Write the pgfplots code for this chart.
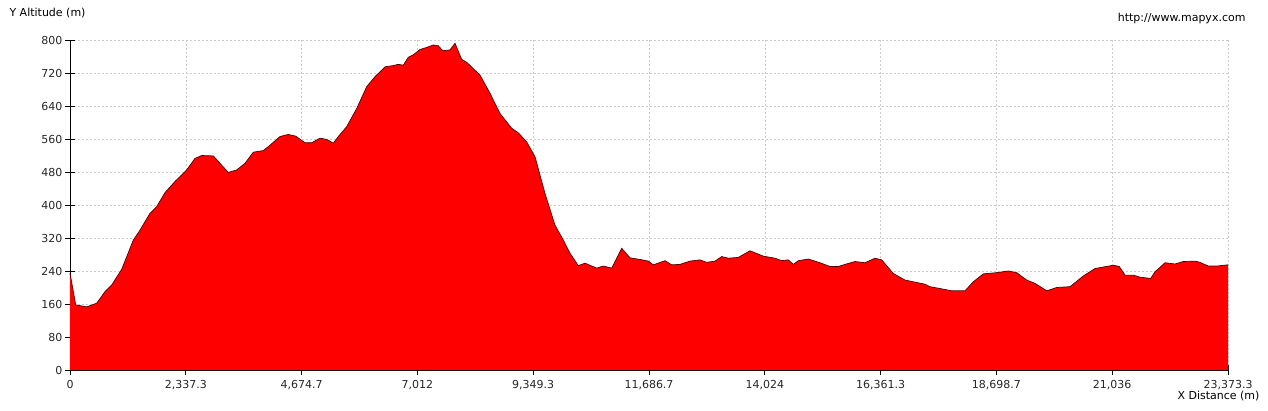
\documentclass[border=0pt]{standalone}
\usepackage{pgfplots}
\usepackage{pgfplotstable}
\pgfplotsset{compat=1.18}
\usepackage{fontspec}
\setmainfont{DejaVu Sans}
\pgfplotstableread{
x y
0 235
115 158
337 153
539 162
706 190
842 206
1043 244
1278 315
1413 339
1615 380
1750 396
1917 430
2119 457
2220 469
2355 485
2523 513
2658 520
2892 519
3028 501
3195 479
3365 485
3532 501
3700 528
3902 532
4037 545
4239 566
4406 571
4556 567
4743 551
4879 551
5046 562
5181 559
5315 550
5416 566
5585 590
5787 634
5989 687
6156 711
6358 735
6526 738
6627 741
6727 739
6828 758
6929 764
7064 777
7200 782
7333 788
7434 786
7523 774
7670 776
7771 792
7906 753
8007 746
8275 715
8477 671
8679 622
8915 586
9049 575
9218 553
9386 517
9587 428
9789 351
9957 315
10092 283
10260 253
10395 259
10631 247
10764 252
10934 247
11136 295
11303 272
11505 268
11673 264
11774 255
12010 265
12145 255
12312 256
12514 264
12716 267
12851 261
13019 264
13154 275
13288 271
13489 273
13725 289
13994 276
14230 271
14365 265
14498 267
14599 256
14700 265
14902 269
15138 260
15340 251
15507 251
15643 256
15844 263
16046 260
16248 271
16383 267
16618 234
16854 218
17257 208
17358 202
17627 196
17796 192
18065 192
18233 214
18434 233
18705 236
18939 240
19108 236
19310 218
19478 210
19714 192
19916 200
20184 202
20453 228
20689 246
21058 254
21179 251
21294 230
21462 230
21597 225
21813 222
21900 238
22102 260
22303 257
22471 263
22707 264
22808 261
22976 252
23145 252
23373.3 255
}\profile
\begin{document}
\begin{tikzpicture}[x=1pt,y=1pt]
\useasboundingbox (0,0) rectangle (1268,410);
\begin{axis}[
  at={(70pt,40pt)}, anchor=south west,
  scale only axis, width=1158pt, height=330pt,
  xmin=0, xmax=23373.3, ymin=0, ymax=800,
  axis x line=bottom, axis y line=left,
  axis line style={-, black, line width=0.8pt},
  scaled x ticks=false, scaled y ticks=false,
  xtick={0,2337.3,4674.7,7012,9349.3,11686.7,14024,16361.3,18698.7,21036,23373.3},
  xticklabels={0,{2,337.3},{4,674.7},{7,012},{9,349.3},{11,686.7},{14,024},{16,361.3},{18,698.7},{21,036},{23,373.3}},
  ytick={0,80,...,800},
  yticklabels={0,80,160,240,320,400,480,560,640,720,800},
  tick align=center, major tick length=10pt,
  tick style={black, line width=0.8pt},
  grid=major,
  major grid style={gray!40, line width=0.5pt, dash pattern=on 2pt off 2pt},
  tick label style={font=\fontsize{11}{13}\selectfont, text=black!85},
  xticklabel style={yshift=-2pt},
  yticklabel style={xshift=1pt},
  clip=false,
]
\addplot[fill=red, draw=none] table {\profile} \closedcycle;
\addplot[draw=black!70!red, line width=0.7pt, sharp plot] table {\profile};
\end{axis}
\node[anchor=west, font=\fontsize{11}{13}\selectfont] at (6,397) {Y Altitude (m)};
\node[anchor=east, font=\fontsize{11}{13}\selectfont] at (1249,392) {http://www.mapyx.com};
\node[anchor=east, font=\fontsize{11}{13}\selectfont] at (1263,14) {X Distance (m)};
\end{tikzpicture}
\end{document}
